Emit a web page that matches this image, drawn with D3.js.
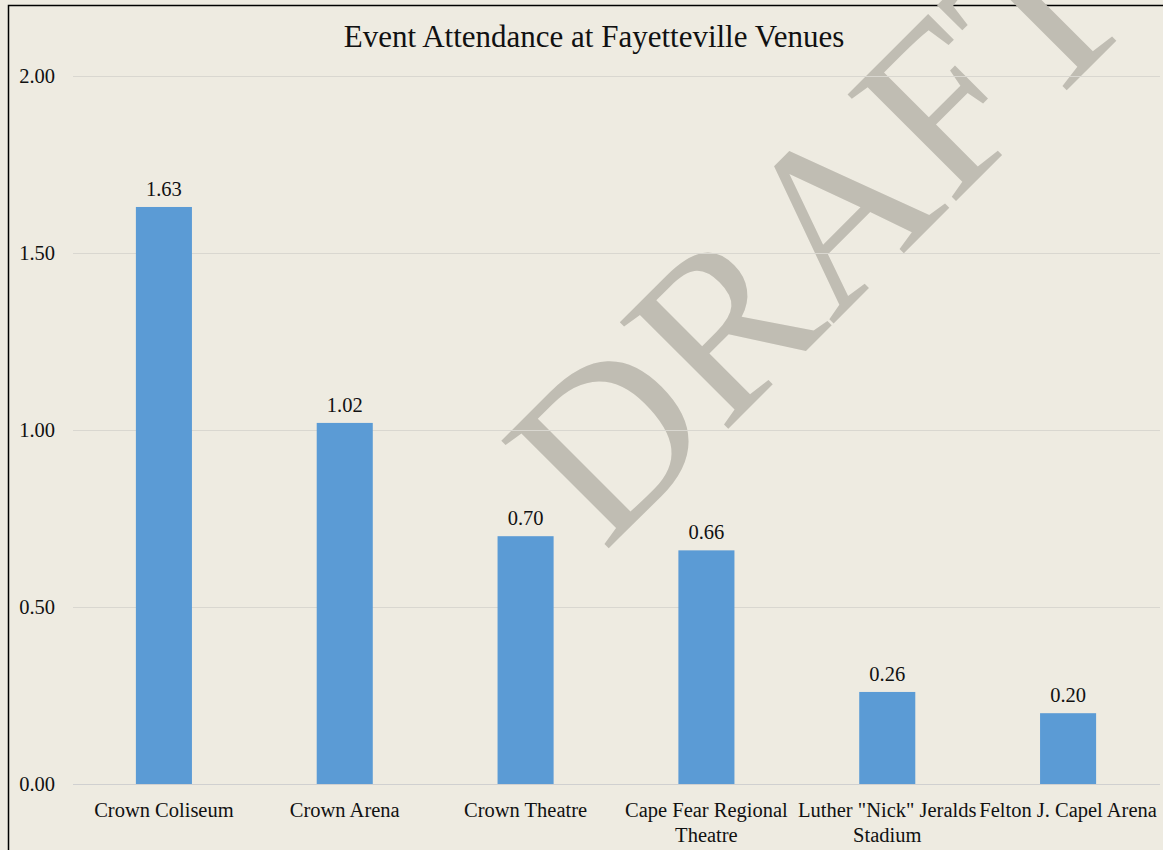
<!DOCTYPE html>
<html><head><meta charset="utf-8">
<script src="https://cdn.jsdelivr.net/npm/d3@7"></script>
<style>body{margin:0;background:#eeebe1;}svg{display:block;}</style>
</head><body>
<script>
const categories = ["Crown Coliseum","Crown Arena","Crown Theatre","Cape Fear Regional Theatre","Luther \"Nick\" Jeralds Stadium","Felton J. Capel Arena"];
const labelLines = [["Crown Coliseum"],["Crown Arena"],["Crown Theatre"],["Cape Fear Regional","Theatre"],["Luther \"Nick\" Jeralds","Stadium"],["Felton J. Capel Arena"]];
const values = [1.63,1.02,0.70,0.66,0.26,0.20];
const yTicks = [0,0.5,1.0,1.5,2.0];
const title = "Event Attendance at Fayetteville Venues";

const W=1163,H=850;
const svg=d3.select("body").append("svg").attr("width",W).attr("height",H);
svg.append("rect").attr("width",W).attr("height",H).attr("fill","#eeebe1");
svg.append("rect").attr("x",8.5).attr("y",5.5).attr("width",W+20).attr("height",H+20)
  .attr("fill","none").attr("stroke","#000").attr("stroke-width",1.5);

const x=d3.scaleBand().domain(categories).range([73.5,1158.5]).paddingInner(0.69).paddingOuter(0.345);
const y=d3.scaleLinear().domain([0,2]).range([784,76]);
const font="'Liberation Serif','Times New Roman',serif";
const fs=20.5;

// watermark
svg.append("text").attr("transform","translate(604,553) rotate(-45)")
  .attr("font-family",font).attr("font-size",232).attr("fill","#c0bdb3").text("DRAFT");

// grid
const gx0=73,gx1=1160;
svg.append("g").selectAll("line").data(yTicks.filter(d=>d>0)).join("line")
  .attr("x1",gx0).attr("x2",gx1).attr("y1",d=>y(d)+0.5).attr("y2",d=>y(d)+0.5)
  .attr("stroke","#d9d7d0").attr("stroke-width",1);

// bars
svg.append("g").selectAll("rect").data(values).join("rect")
  .attr("x",(d,i)=>x(categories[i])).attr("width",x.bandwidth())
  .attr("y",d=>y(d)).attr("height",d=>y(0)-y(d)).attr("fill","#5b9bd5");

// zero line
svg.append("line").attr("x1",gx0).attr("x2",gx1).attr("y1",y(0)+0.5).attr("y2",y(0)+0.5)
  .attr("stroke","#d0d0d0").attr("stroke-width",1.2);

// y axis labels
const yAxis=d3.axisLeft(y).tickValues(yTicks).tickFormat(d3.format(".2f")).tickSize(0).tickPadding(0);
const ga=svg.append("g").attr("transform","translate(55,0)").call(yAxis);
ga.select(".domain").remove();
ga.selectAll("text").attr("font-family",font).attr("font-size",fs).attr("fill","#111").attr("dy","0.32em");

// value labels
svg.append("g").selectAll("text").data(values).join("text")
  .attr("x",(d,i)=>x(categories[i])+x.bandwidth()/2).attr("y",d=>y(d)-11)
  .attr("text-anchor","middle").attr("font-family",font).attr("font-size",fs).attr("fill","#111")
  .text(d=>d3.format(".2f")(d));

// category labels
const cg=svg.append("g").selectAll("text").data(categories).join("text")
  .attr("x",d=>x(d)+x.bandwidth()/2).attr("y",817)
  .attr("text-anchor","middle").attr("font-family",font).attr("font-size",fs).attr("fill","#111");
cg.each(function(d,i){
  const t=d3.select(this);
  labelLines[i].forEach((l,j)=>t.append("tspan").attr("x",x(d)+x.bandwidth()/2).attr("dy",j?25:0).text(l));
});

// title
svg.append("text").attr("x",594).attr("y",47).attr("text-anchor","middle")
  .attr("font-family",font).attr("font-size",31).attr("fill","#111").text(title);
</script>
</body></html>
